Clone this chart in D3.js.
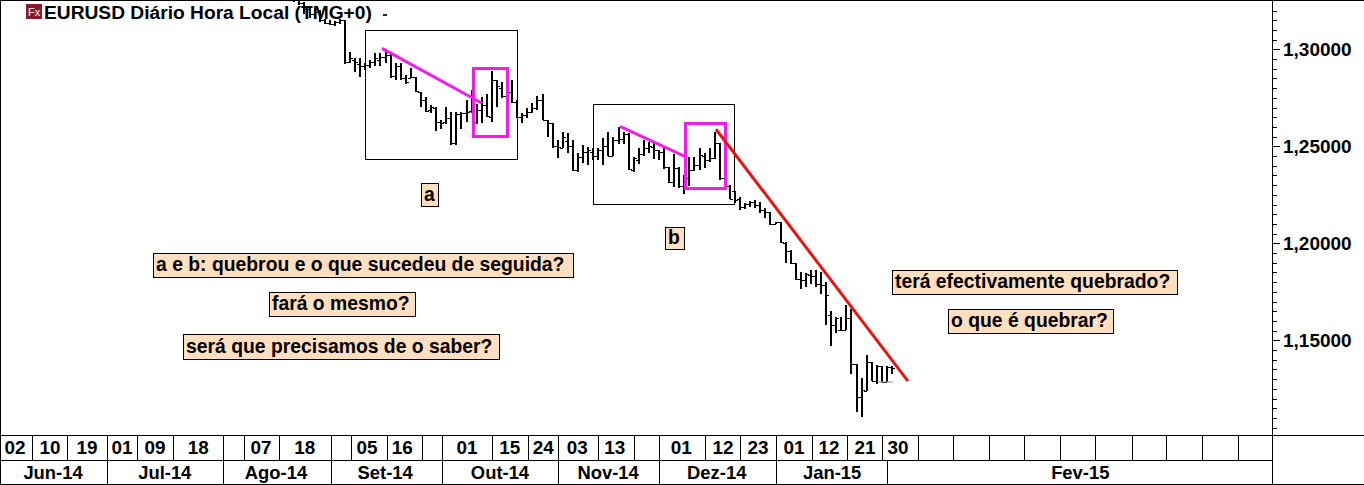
<!DOCTYPE html>
<html><head><meta charset="utf-8">
<script src="https://cdn.jsdelivr.net/npm/d3@7/dist/d3.min.js"></script>
<style>html,body{margin:0;padding:0;background:#fff}svg{display:block}text{font-family:"Liberation Sans",Arial,sans-serif;font-weight:bold;fill:#000}</style>
</head><body><div id="c"></div>
<script>
const firstBar=-10;
const opens=[1.3267,1.3252,1.3237,1.3206,1.3180,1.3190,1.3149,1.3134,1.3128,1.3139,1.3149,1.2933,1.2943,1.2922,1.2912,1.2917,1.2933,1.2943,1.2958,1.2969,1.2860,1.2912,1.2850,1.2850,1.2855,1.2778,1.2737,1.2685,1.2696,1.2624,1.2624,1.2644,1.2515,1.2665,1.2670,1.2680,1.2624,1.2685,1.2711,1.2649,1.2840,1.2799,1.2758,1.2778,1.2727,1.2649,1.2660,1.2675,1.2696,1.2737,1.2634,1.2618,1.2500,1.2490,1.2526,1.2500,1.2376,1.2443,1.2469,1.2469,1.2449,1.2479,1.2500,1.2449,1.2531,1.2536,1.2562,1.2376,1.2428,1.2459,1.2490,1.2495,1.2479,1.2469,1.2392,1.2315,1.2387,1.2294,1.2335,1.2376,1.2402,1.2449,1.2428,1.2438,1.2515,1.2335,1.2294,1.2268,1.2227,1.2186,1.2201,1.2212,1.2196,1.2170,1.2160,1.2098,1.2109,1.2001,1.1959,1.1898,1.1815,1.1810,1.1836,1.1831,1.1789,1.1784,1.1630,1.1578,1.1552,1.1552,1.1614,1.1377,1.1207,1.1238,1.1388,1.1290,1.1367,1.1285,1.1362];
const highs=[1.3283,1.3262,1.3242,1.3216,1.3206,1.3201,1.3154,1.3149,1.3144,1.3154,1.3149,1.2984,1.2953,1.2953,1.2927,1.2943,1.2979,1.2979,1.2995,1.2984,1.2927,1.2927,1.2866,1.2902,1.2855,1.2778,1.2752,1.2711,1.2701,1.2634,1.2701,1.2675,1.2675,1.2675,1.2737,1.2788,1.2716,1.2752,1.2768,1.2886,1.2840,1.2830,1.2814,1.2840,1.2737,1.2670,1.2696,1.2721,1.2758,1.2768,1.2634,1.2618,1.2531,1.2572,1.2567,1.2531,1.2464,1.2505,1.2495,1.2490,1.2490,1.2541,1.2572,1.2546,1.2598,1.2572,1.2567,1.2443,1.2490,1.2531,1.2521,1.2516,1.2479,1.2490,1.2392,1.2459,1.2392,1.2351,1.2443,1.2443,1.2490,1.2464,1.2490,1.2572,1.2515,1.2340,1.2299,1.2268,1.2237,1.2206,1.2217,1.2222,1.2212,1.2181,1.2160,1.2109,1.2109,1.2006,1.1964,1.1898,1.1851,1.1846,1.1861,1.1861,1.1851,1.1800,1.1650,1.1619,1.1619,1.1681,1.1660,1.1377,1.1305,1.1424,1.1388,1.1372,1.1367,1.1367,1.1367];
const lows=[1.3242,1.3226,1.3180,1.3159,1.3154,1.3139,1.3128,1.3123,1.3118,1.3128,1.2922,1.2927,1.2881,1.2855,1.2891,1.2902,1.2912,1.2912,1.2927,1.2850,1.2840,1.2840,1.2819,1.2850,1.2778,1.2701,1.2675,1.2670,1.2577,1.2587,1.2613,1.2505,1.2505,1.2587,1.2624,1.2670,1.2613,1.2618,1.2649,1.2624,1.2701,1.2747,1.2752,1.2721,1.2644,1.2618,1.2644,1.2670,1.2685,1.2634,1.2546,1.2490,1.2438,1.2490,1.2464,1.2371,1.2366,1.2412,1.2402,1.2428,1.2428,1.2402,1.2449,1.2449,1.2510,1.2510,1.2376,1.2366,1.2407,1.2449,1.2464,1.2433,1.2428,1.2381,1.2310,1.2289,1.2284,1.2253,1.2294,1.2371,1.2376,1.2387,1.2418,1.2433,1.2325,1.2289,1.2227,1.2206,1.2170,1.2176,1.2186,1.2181,1.2155,1.2129,1.2093,1.2098,1.2001,1.1898,1.1892,1.1810,1.1763,1.1774,1.1789,1.1774,1.1738,1.1578,1.1470,1.1537,1.1552,1.1552,1.1326,1.1130,1.1104,1.1238,1.1290,1.1274,1.1285,1.1285,1.1326];
const closes=[1.3252,1.3237,1.3206,1.3180,1.3190,1.3149,1.3134,1.3128,1.3139,1.3149,1.2933,1.2953,1.2933,1.2912,1.2917,1.2933,1.2953,1.2958,1.2969,1.2860,1.2912,1.2850,1.2830,1.2855,1.2783,1.2737,1.2680,1.2701,1.2624,1.2618,1.2644,1.2515,1.2665,1.2670,1.2675,1.2778,1.2685,1.2711,1.2655,1.2840,1.2809,1.2758,1.2778,1.2727,1.2649,1.2660,1.2675,1.2696,1.2737,1.2634,1.2618,1.2500,1.2495,1.2546,1.2500,1.2376,1.2443,1.2469,1.2479,1.2449,1.2479,1.2500,1.2449,1.2531,1.2536,1.2562,1.2381,1.2438,1.2459,1.2490,1.2500,1.2479,1.2469,1.2392,1.2315,1.2387,1.2294,1.2346,1.2376,1.2402,1.2454,1.2428,1.2438,1.2515,1.2335,1.2294,1.2227,1.2222,1.2186,1.2201,1.2212,1.2196,1.2170,1.2160,1.2098,1.2109,1.2006,1.1959,1.1898,1.1815,1.1810,1.1841,1.1831,1.1789,1.1784,1.1733,1.1578,1.1614,1.1552,1.1614,1.1377,1.1207,1.1243,1.1388,1.1290,1.1367,1.1285,1.1362,1.1357];

const priceLabels=[1.30,1.25,1.20,1.15];
const dayLabels=["02","10","19","01","09","18","07","18","05","16","01","15","24","03","13","01","12","23","01","12","21","30"];
const daySlots=[2.9,9.7,16.9,23.7,30.1,38.5,50.7,59.2,71.3,78.1,90.7,99.0,105.5,112.1,119.4,132.3,140.4,147.2,154.2,161.0,168.0,174.4];
const daySeps=[6.2,13.0,20.8,26.6,33.6,43.3,47.4,54.2,64.3,68.2,75.2,82.0,85.8,95.6,102.5,108.4,116.1,123.1,128.0,136.9,143.7,150.7,157.7,164.5,171.3,178.3,185.1,192.1,198.9,205.9,212.7,219.8,226.5,233.4,240.4];
const monthLabels=["Jun-14","Jul-14","Ago-14","Set-14","Out-14","Nov-14","Dez-14","Jan-15","Fev-15"];
const monthSlots=[10.3,32.0,53.6,74.8,97.1,118.1,139.2,161.6,209.8];
const monthSeps=[20.8,43.3,64.3,85.8,108.4,128.0,150.7,172.3];

// annotations in [bar index, price]
const thinBoxes=[[3.95,1.3097,33.96,1.2433],[49.1,1.2716,77.0,1.2201]];
const magentaBoxes=[[25.4,1.2899,32.1,1.2552],[67.2,1.2616,75.1,1.2281]];
const magentaLines=[[7.3,1.3005,27.05,1.2722],[54.3,1.2603,67.5,1.2443]];
const redLine=[73.25,1.2588,111.15,1.1290];
const greyLine=[105.2,1.1285,108.2,1.1285];
const noteTexts=["a","b","a e b: quebrou e o que sucedeu de seguida?","fará o mesmo?","será que precisamos de o saber?","terá efectivamente quebrado?","o que é quebrar?"];
const titleText="EURUSD Diário Hora Local (TMG+0)";

// layout
const W=1364,H=485,axisX=1272,plotB=435,rowB=460,btm=484;
const noteBoxes=[[421,183,17,23],[665,227,19,22],[153,253,420,24],[269,292,146,24],[183,334,316,25],[892,270,285,24],[948,309,165,24]];
const x=d3.scaleLinear().domain([0,108]).range([345,892]);
const slot=d3.scaleLinear().domain([0,264.9]).range([0,W]);
const y=d3.scaleLinear().domain([1.30,1.15]).range([49.3,340.3]);
const fsNote=19.35,fsTitle=19.2,fsDay=18.9,fsMonth=18.4,fsPrice=19;

const svg=d3.select("#c").append("svg").attr("width",W).attr("height",H);
svg.append("defs").append("clipPath").attr("id","p").append("rect").attr("x",0).attr("y",0).attr("width",axisX).attr("height",plotB);
const g=svg.append("g").attr("clip-path","url(#p)");

const bars=opens.map((o,i)=>({i:i+firstBar,o,h:highs[i],l:lows[i],c:closes[i]}));
const bg=g.append("g").attr("shape-rendering","crispEdges").attr("stroke","#000").attr("stroke-width",2);
bars.forEach(b=>{
  const px=Math.round(x(b.i));
  bg.append("line").attr("x1",px).attr("x2",px).attr("y1",y(b.h)).attr("y2",y(b.l));
  bg.append("line").attr("x1",px-3).attr("x2",px).attr("y1",Math.round(y(b.o))+.5).attr("y2",Math.round(y(b.o))+.5).attr("stroke-width",1);
  bg.append("line").attr("x1",px).attr("x2",px+3).attr("y1",Math.round(y(b.c))+.5).attr("y2",Math.round(y(b.c))+.5).attr("stroke-width",1);
});
const boxAttr=(s,d)=>s.attr("x",x(d[0])).attr("y",y(d[1])).attr("width",x(d[2])-x(d[0])).attr("height",y(d[3])-y(d[1])).attr("fill","none");
thinBoxes.forEach(d=>boxAttr(g.append("rect"),d).attr("stroke","#000").attr("stroke-width",1).attr("shape-rendering","crispEdges"));
const seg=(d,col,w)=>g.append("line").attr("x1",x(d[0])).attr("y1",y(d[1])).attr("x2",x(d[2])).attr("y2",y(d[3])).attr("stroke",col).attr("stroke-width",w);
seg(greyLine,"#888",1);
magentaLines.forEach(d=>seg(d,"#f01ee8",3));
magentaBoxes.forEach(d=>boxAttr(g.append("rect"),d).attr("stroke","#f01ee8").attr("stroke-width",3).attr("shape-rendering","crispEdges"));
seg(redLine,"#e81414",3);

// notes
noteTexts.forEach((t,i)=>{
  const b=noteBoxes[i];
  svg.append("rect").attr("x",b[0]+.5).attr("y",b[1]+.5).attr("width",b[2]).attr("height",b[3]).attr("fill","#ffdfbf").attr("stroke","#000").attr("stroke-width",1).attr("shape-rendering","crispEdges");
  svg.append("text").attr("x",b[0]+3).attr("y",b[1]+b[3]/2-1).attr("dominant-baseline","central").attr("font-size",fsNote).text(t);
});

// title
svg.append("rect").attr("x",26).attr("y",4).attr("width",16).attr("height",15).attr("fill","#8a1c28");
svg.append("text").attr("x",28).attr("y",16).attr("font-size",11).style("font-weight","normal").style("fill","#fff").text("Fx");
svg.append("text").attr("x",44).attr("y",19).attr("font-size",fsTitle).text(titleText);
svg.append("rect").attr("x",383).attr("y",14).attr("width",4).attr("height",2).attr("fill","#222");

// frame
const frame=svg.append("g").attr("stroke","#000").attr("stroke-width",1).attr("shape-rendering","crispEdges");
[[0,.5,W,.5],[.5,0,.5,btm],[0,plotB+.5,W,plotB+.5],[0,rowB+.5,axisX,rowB+.5],[0,btm+.5,W,btm+.5],[axisX+.5,0,axisX+.5,btm]].forEach(d=>
  frame.append("line").attr("x1",d[0]).attr("y1",d[1]).attr("x2",d[2]).attr("y2",d[3]));
daySeps.forEach(s=>{const p=Math.round(slot(s))+.5;frame.append("line").attr("x1",p).attr("x2",p).attr("y1",plotB).attr("y2",rowB);});
monthSeps.forEach(s=>{const p=Math.round(slot(s))+.5;frame.append("line").attr("x1",p).attr("x2",p).attr("y1",rowB).attr("y2",btm);});

// time labels
dayLabels.forEach((t,i)=>svg.append("text").attr("x",slot(daySlots[i])).attr("y",454).attr("text-anchor","middle").attr("font-size",fsDay).text(t));
monthLabels.forEach((t,i)=>svg.append("text").attr("x",slot(monthSlots[i])).attr("y",479).attr("text-anchor","middle").attr("font-size",fsMonth).text(t));

// price axis
const minor=d3.range(0,44).map(k=>+(1.32-k*0.005).toFixed(3)).filter(v=>y(v)<plotB&&y(v)>0);
const axisMinor=d3.axisRight(y).tickValues(minor.filter(v=>!priceLabels.includes(v))).tickSize(4).tickFormat("");
const axisMajor=d3.axisRight(y).tickValues(priceLabels).tickSize(7).tickPadding(4).tickFormat(v=>d3.format(".5f")(v).replace(".",","));
const ga=svg.append("g").attr("transform",`translate(${axisX+.5},0)`);
ga.append("g").call(axisMinor).call(s=>s.select(".domain").remove());
ga.append("g").call(axisMajor).call(s=>s.select(".domain").remove()).call(s=>s.selectAll("text").attr("font-size",fsPrice).attr("dy","0.32em").attr("x",10.5));
ga.selectAll("line").attr("stroke","#000").attr("shape-rendering","crispEdges");
</script></body></html>
